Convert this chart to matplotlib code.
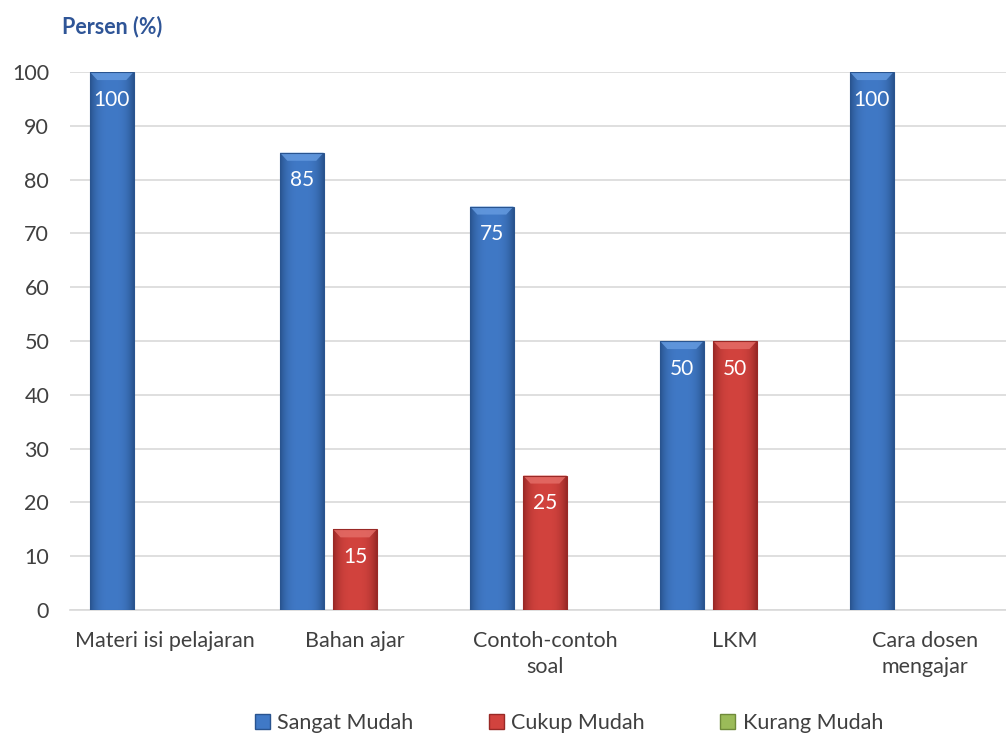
import numpy as np
import matplotlib
matplotlib.use("Agg")
import matplotlib.pyplot as plt
from matplotlib.patches import Polygon, Patch

plt.rcParams['font.family'] = ['Lato', 'DejaVu Sans']

categories = ["Materi isi pelajaran", "Bahan ajar", "Contoh-contoh\nsoal", "LKM", "Cara dosen\nmengajar"]
series_names = ["Sangat Mudah", "Cukup Mudah", "Kurang Mudah"]
sangat_mudah = [100, 85, 75, 50, 100]
cukup_mudah = [0, 15, 25, 50, 0]
kurang_mudah = [0, 0, 0, 0, 0]
y_ticks = [0, 10, 20, 30, 40, 50, 60, 70, 80, 90, 100]

colors = {
    "Sangat Mudah": ("#4079C6", "#29548F", "#649ADF"),
    "Cukup Mudah": ("#D2433E", "#992926", "#E46C66"),
    "Kurang Mudah": ("#9BBB59", "#6F8A3A", "#C4DA8E"),
}

W, H = 1006, 735
fig = plt.figure(figsize=(W / 100, H / 100), dpi=100)
ax = fig.add_axes([70 / W, 125 / H, 936 / W, 538 / H])

x = np.arange(len(categories))
bw = 0.23
step = 0.28
all_series = [sangat_mudah, cukup_mudah, kurang_mudah]


def shade_bar(ax, rect, base, dark, light):
    # horizontal gradient + light bevel on top, clipped to the bar
    x0, w, h = rect.get_x(), rect.get_width(), rect.get_height()
    if h <= 0:
        return
    grad = np.linspace(-1, 1, 64)
    prof = 1 - np.abs(grad) ** 3
    c_base = np.array(matplotlib.colors.to_rgb(base))
    c_dark = np.array(matplotlib.colors.to_rgb(dark))
    img = c_dark[None, :] + (c_base - c_dark)[None, :] * prof[:, None]
    im = ax.imshow(img[None, :, :], extent=(x0, x0 + w, 0, h), aspect='auto',
                   interpolation='bilinear', zorder=3)
    im.set_clip_path(rect)
    bev_x = w * 0.17
    bev_y = 1.5
    poly = Polygon([(x0, h), (x0 + w, h), (x0 + w - bev_x, h - bev_y), (x0 + bev_x, h - bev_y)],
                   closed=True, facecolor=light, edgecolor='none', alpha=0.85, zorder=4)
    ax.add_patch(poly)
    ax.add_patch(Polygon([(x0, 0), (x0, h), (x0 + w, h), (x0 + w, 0)], closed=True,
                         facecolor='none', edgecolor=dark, linewidth=0.8, zorder=5))


for i, (name, vals) in enumerate(zip(series_names, all_series)):
    base, dark, light = colors[name]
    bars = ax.bar(x + (i - 1) * step, vals, width=bw, color=base, zorder=2)
    for rect, v in zip(bars, vals):
        shade_bar(ax, rect, base, dark, light)
        if v > 0:
            ax.annotate(str(v), (rect.get_x() + rect.get_width() / 2, v),
                        xytext=(0, -20), textcoords='offset points',
                        ha='center', va='center', color='white', fontsize=15, zorder=6)

ax.set_xlim(-0.5, -0.5 + 936 / 190)
ax.set_ylim(0, 100)
ax.set_yticks(y_ticks)
ax.set_xticks(x)
ax.set_xticklabels(categories, linespacing=1.4)
ax.tick_params(axis='both', length=0, labelsize=15.5, colors='#404040')
ax.tick_params(axis='y', pad=15)
ax.tick_params(axis='x', pad=15)
ax.yaxis.grid(True, color='#D9D9D9', linewidth=1.2, zorder=0)
ax.set_axisbelow(True)
for s in ['top', 'right', 'left']:
    ax.spines[s].set_visible(False)
ax.spines['bottom'].set_color('#D9D9D9')
ax.spines['bottom'].set_linewidth(1.2)

fig.text(62 / W, 1 - 27 / H, "Persen (%)", fontsize=15.5, fontweight='bold',
         color='#2F5597', ha='left', va='center')

handles = [Patch(facecolor=colors[n][0], edgecolor=colors[n][1]) for n in series_names]
fig.legend(handles, series_names, loc='center', bbox_to_anchor=(569 / W, 1 - 723 / H),
           ncol=3, frameon=False, fontsize=15.5, handlelength=0.7, handleheight=0.7,
           handletextpad=0.35, columnspacing=3.5, labelcolor='#404040')

fig.savefig("out.png", dpi=100)
